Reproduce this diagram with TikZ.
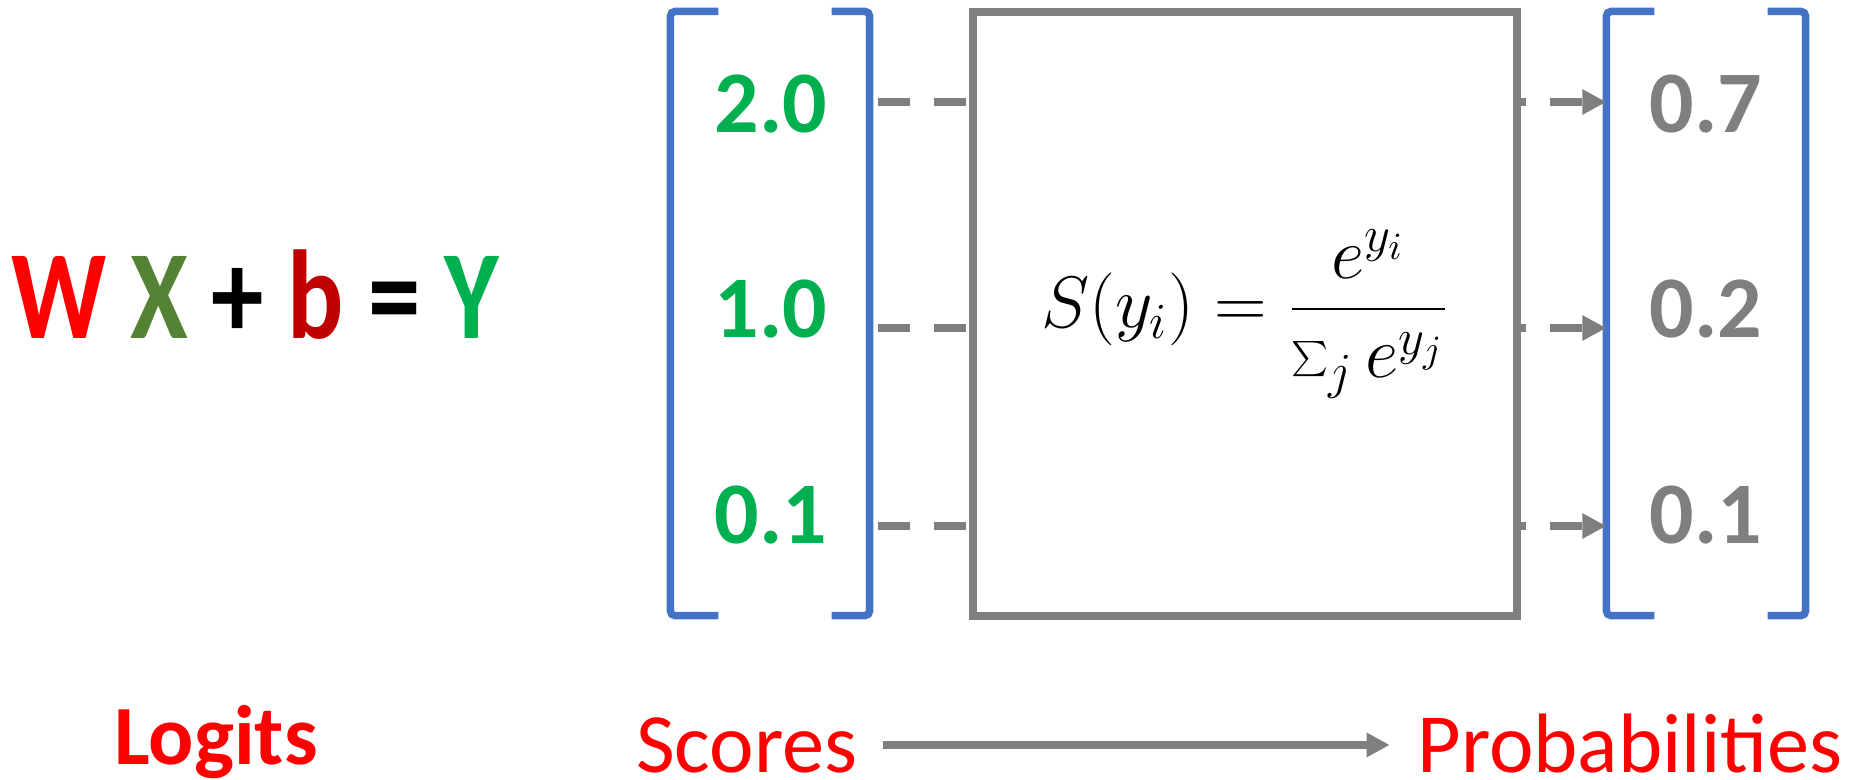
\documentclass[tikz,border=0pt]{standalone}
\usepackage{fontspec}
\setmainfont{Carlito}
\usetikzlibrary{arrows.meta,positioning,calc}
\definecolor{logitred}{HTML}{FF0000}
\definecolor{xolive}{HTML}{548235}
\definecolor{bdarkred}{HTML}{C00000}
\definecolor{scoregreen}{HTML}{00B050}
\definecolor{probgray}{HTML}{7F7F7F}
\definecolor{bracketblue}{HTML}{4472C4}

\begin{document}
\begin{tikzpicture}[
  >=Triangle,
  vecbox/.style={minimum width=1.98cm, minimum height=6.03cm, inner sep=0pt},
  bracket/.style={draw=bracketblue, line width=0.075cm, rounded corners=0.05cm},
  score/.style={font=\fontsize{25}{30}\selectfont\bfseries, text=#1, anchor=base, inner sep=0pt},
  dashflow/.style={draw=probgray, line width=0.08cm, dash pattern=on 0.32cm off 0.24cm,
    -{Triangle[length=0.24cm, width=0.24cm]}},
  flow/.style={draw=probgray, line width=0.08cm, -{Triangle[length=0.23cm, width=0.23cm]}},
  caption/.style={font=\fontsize{24}{29}\selectfont, text=logitred, inner sep=0pt, anchor=base}
]
  \useasboundingbox (0,0) rectangle (18.53,-7.79);

  % Linear model
  \node[font=\fontsize{36}{43}\selectfont\bfseries, anchor=base, inner sep=0pt] (eqn) at (2.55,-3.38)
    {\scalebox{0.83}[1]{\textcolor{logitred}{W} \textcolor{xolive}{X} + \textcolor{bdarkred}{b} = \textcolor{scoregreen}{Y}}};

  % Score and probability vectors
  \node[vecbox] (sc) at (7.70,-3.135) {};
  \node[vecbox] (pr) at (17.06,-3.135) {};
  \foreach \v in {sc,pr} {
    \draw[bracket] ([xshift=0.48cm]\v.north west) -- (\v.north west) -- (\v.south west) -- ([xshift=0.48cm]\v.south west);
    \draw[bracket] ([xshift=-0.38cm]\v.north east) -- (\v.north east) -- (\v.south east) -- ([xshift=-0.38cm]\v.south east);
  }

  \node[score=scoregreen] (s1) at (7.71,-1.32) {2.0};
  \node[score=scoregreen] (s2) at (7.71,-3.37) {1.0};
  \node[score=scoregreen] (s3) at (7.71,-5.43) {0.1};
  \node[score=probgray] (p1) at (17.06,-1.32) {0.7};
  \node[score=probgray] (p2) at (17.06,-3.37) {0.2};
  \node[score=probgray] (p3) at (17.06,-5.43) {0.1};

  % Rows passing through the softmax box
  \coordinate (r1) at (0,-1.02);
  \coordinate (r2) at (0,-3.28);
  \coordinate (r3) at (0,-5.26);
  \foreach \r in {r1,r2,r3}
    \draw[dashflow] ([xshift=0.08cm]sc.east |- \r) -- (pr.west |- \r);

  % Softmax box
  \node[draw=probgray, line width=0.075cm, fill=white, minimum width=5.44cm, minimum height=6.04cm, inner sep=0pt] (softmax) at (12.45,-3.14)
    {\fontsize{21}{25}\selectfont $\displaystyle S(y_i) = \frac{e^{y_i}}{\sum_j e^{y_j}}$};

  % Captions
  \node[caption, font=\fontsize{24}{29}\selectfont\bfseries] (logits) at (2.16,-7.64) {Logits};
  \node[caption] (scores) at (7.47,-7.72) {Scores};
  \node[caption] (probs) at (16.30,-7.72) {Probabilities};
  \draw[flow] ([xshift=0.25cm]scores.east) -- ([xshift=-0.27cm]scores.east -| probs.west);

\end{tikzpicture}
\end{document}
